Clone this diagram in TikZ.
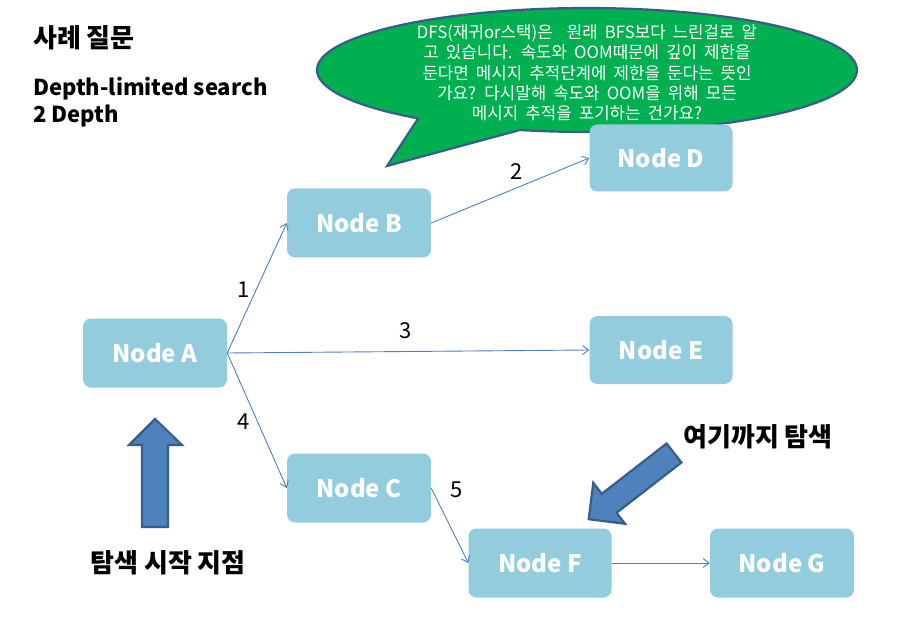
\documentclass[tikz,border=0pt]{standalone}
\usepackage{fontspec}
\setmainfont{Noto Sans CJK KR}
\usetikzlibrary{arrows.meta}
\definecolor{nodefill}{HTML}{93CDDD}
\definecolor{edgeblue}{HTML}{4F81BD}
\definecolor{darkblue}{HTML}{385D8A}
\definecolor{bubblegreen}{HTML}{00B050}
\tikzset{
  nodebox/.style={fill=nodefill, rounded corners=8pt, minimum width=144pt, minimum height=69pt,
    text=white, font=\fontsize{24}{24}\selectfont\bfseries, inner sep=0pt},
  edge/.style={draw=edgeblue, line width=0.9pt, -{Straight Barb[length=6pt,width=9pt]}},
  numlabel/.style={font=\fontsize{22}{22}\selectfont, text=black, inner sep=0pt},
  bigarrow/.style={fill=edgeblue, draw=darkblue, line width=2.2pt, line join=miter},
  boldtext/.style={font=\fontsize{26}{26}\selectfont\bfseries, text=black, inner sep=0pt},
  headtext/.style={font=\fontsize{22}{27}\selectfont\bfseries, text=black, inner sep=0pt, anchor=west, align=left}
}
\begin{document}
\begin{tikzpicture}[x=1pt,y=-1pt]
\useasboundingbox (0,0) rectangle (901,617);
\fill[white] (0,0) rectangle (901,617);

% speech bubble
\filldraw[fill=bubblegreen, draw=darkblue, line width=2.2pt, line join=miter]
  plot[domain=128.7:464.4, samples=160, variable=\t] ({587+270*cos(\t)},{70+62*sin(\t)})
  -- (387,166) -- cycle;
\node[font={\fontsize{16.8}{20.3}\selectfont\spaceskip=0.42em\relax}, text=white, align=center, inner sep=0pt] (bubble) at (587,73)
  {DFS(재귀or스택)은\hspace{0.42em}\ 원래 BFS보다 느린걸로 알\\
   고 있습니다. 속도와 OOM때문에 깊이 제한을\\
   둔다면 메시지 추적단계에 제한을 둔다는 뜻인\\
   가요? 다시말해 속도와 OOM을 위해 모든\\
   메시지 추적을 포기하는 건가요?};

% headings
\node[headtext] (title) at (33,38) {\fontsize{26}{26}\selectfont 사례 질문};
\node[headtext] (sub) at (33,102) {Depth-limited search\\2 Depth};

% nodes
\node[nodebox] (A) at (155,353) {Node A};
\node[nodebox] (B) at (359,223) {Node B};
\node[nodebox] (C) at (359,488) {Node C};
\node[nodebox, minimum width=143pt, minimum height=67pt] (D) at (661,158) {Node D};
\node[nodebox, minimum width=143pt, minimum height=68pt] (E) at (661,350) {Node E};
\node[nodebox, minimum width=143pt] (F) at (540,563) {Node F};
\node[nodebox] (G) at (782,563) {Node G};

% edges
\draw[edge] (A.east) -- (B.west);
\draw[edge] (A.east) -- (E.west);
\draw[edge] (A.east) -- (C.west);
\draw[edge] (B.east) -- (D.west);
\draw[edge] (C.east) -- (F.west);
\draw[edge] (F.east) -- (G.west);

% edge labels
\node[numlabel] (l1) at (244,290) {1};
\node[numlabel] (l2) at (517,172) {2};
\node[numlabel] (l3) at (406,331) {3};
\node[numlabel] (l4) at (244,422) {4};
\node[numlabel] (l5) at (457,490) {5};

% big arrows
\filldraw[bigarrow] (142,527) -- (142,445) -- (129,445) -- (155,419) -- (182,445) -- (168,445) -- (168,527) -- cycle;
\filldraw[bigarrow] (666.6,443.5) -- (601.8,493.8) -- (593.3,482.8) -- (588.7,519.2) -- (625.1,523.8) -- (616.6,512.8) -- (681.4,462.5) -- cycle;

\node[boldtext] (start) at (168,563) {탐색 시작 지점};
\node[boldtext] (here) at (758,437) {여기까지 탐색};
\end{tikzpicture}
\end{document}
